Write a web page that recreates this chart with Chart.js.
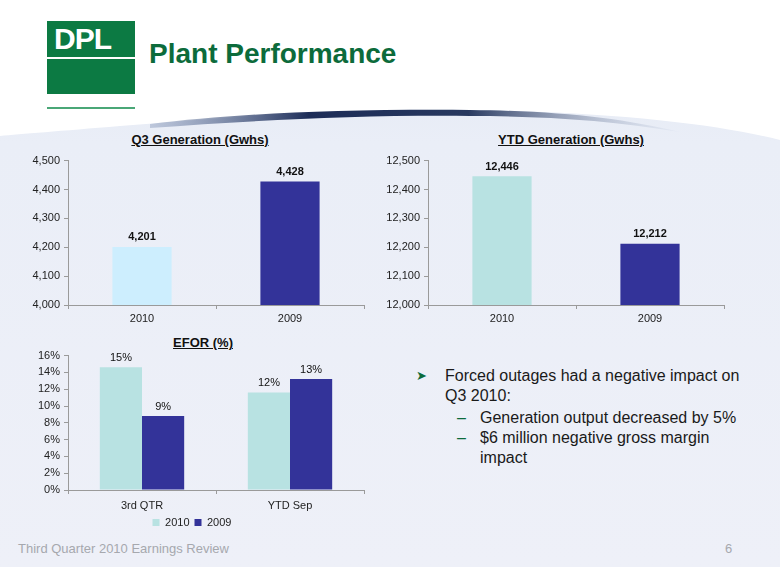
<!DOCTYPE html>
<html>
<head>
<meta charset="utf-8">
<script src="https://cdn.jsdelivr.net/npm/chart.js@4.4.1/dist/chart.umd.min.js"></script>
<style>
  html, body { margin: 0; padding: 0; }
  body {
    width: 780px; height: 567px; position: relative; overflow: hidden;
    font-family: "Liberation Sans", Arial, sans-serif;
    background: #eef0f8;
  }
  .abs { position: absolute; }
  #swoosh { left: 0; top: 0; }
  .logo-top { left: 47px; top: 21px; width: 88px; height: 36px; background: #0c7a43; }
  .logo-bot { left: 47px; top: 59px; width: 88px; height: 35px; background: #0c7a43; }
  .logo-line { left: 47px; top: 107px; width: 88px; height: 2px; background: #4aa777; }
  .logo-txt { left: 54px; top: 22px; color: #fff; font: bold 30px "Liberation Sans", Arial, sans-serif; letter-spacing: -1px; }
  .title { left: 149px; top: 38px; color: #0c6b3b; font: bold 28px "Liberation Sans", Arial, sans-serif; }
  .ctitle { font: bold 13px "Liberation Sans", Arial, sans-serif; color: #111; text-decoration: underline; white-space: nowrap; transform: translateX(-50%); }
  .bul { font: 16px "Liberation Sans", Arial, sans-serif; color: #1a1a1a; line-height: 20px; }
  .foot { font: 13px "Liberation Sans", Arial, sans-serif; color: #a6a8ae; }
</style>
</head>
<body>
<svg id="swoosh" class="abs" width="780" height="567">
  <defs>
    <linearGradient id="bg" x1="0" y1="0" x2="0" y2="1">
      <stop offset="0" stop-color="#dfe6f2"/>
      <stop offset="0.25" stop-color="#eaeef7"/>
      <stop offset="1" stop-color="#eef0f8"/>
    </linearGradient>
    <linearGradient id="sw" x1="0" y1="0" x2="1" y2="0">
      <stop offset="0" stop-color="#7c8fb3" stop-opacity="0.4"/>
      <stop offset="0.3" stop-color="#1c2c57"/>
      <stop offset="0.6" stop-color="#28395f"/>
      <stop offset="1" stop-color="#c9d3e6" stop-opacity="0.2"/>
    </linearGradient>
  </defs>
  <rect x="0" y="0" width="780" height="567" fill="url(#bg)"/>
  <path d="M0 0 H780 V140 C720 125 620 112 470 110 C330 108 220 118 120 126 C60 131 20 134 0 136 Z" fill="#ffffff"/>
  <path d="M150 124 C230 114 330 109 470 110 C560 111 620 118 680 132 C610 120 540 116 470 116 C360 115 260 120 150 128 Z" fill="url(#sw)"/>
</svg>

<div class="abs logo-top"></div>
<div class="abs logo-bot"></div>
<div class="abs logo-line"></div>
<div class="abs logo-txt">DPL</div>
<div class="abs title">Plant Performance</div>

<div class="abs ctitle" style="left:200px; top:132px;">Q3 Generation (Gwhs)</div>
<div class="abs ctitle" style="left:571px; top:132px;">YTD Generation (Gwhs)</div>
<div class="abs ctitle" style="left:203px; top:335px;">EFOR (%)</div>

<canvas id="q3" class="abs" style="left:20px; top:150px;"></canvas>
<canvas id="ytd" class="abs" style="left:380px; top:150px;"></canvas>
<canvas id="efor" class="abs" style="left:20px; top:345px;"></canvas>

<div class="abs bul" style="left:416px; top:366px; color:#0c6b3b; font-size:13px;">&#10148;</div>
<div class="abs bul" style="left:445px; top:366px; width:320px;">Forced outages had a negative impact on<br>Q3 2010:</div>
<div class="abs bul" style="left:457px; top:408px; color:#0c6b3b;">&ndash;</div>
<div class="abs bul" style="left:480px; top:408px;">Generation output decreased by 5%</div>
<div class="abs bul" style="left:457px; top:428px; color:#0c6b3b;">&ndash;</div>
<div class="abs bul" style="left:480px; top:428px; width:280px;">$6 million negative gross margin<br>impact</div>

<div class="abs foot" style="left:18px; top:541px;">Third Quarter 2010 Earnings Review</div>
<div class="abs foot" style="left:725px; top:541px;">6</div>

<script>
// 数据
const genYears = ['2010', '2009'];
const q3Values = [4201, 4428];
const ytdValues = [12446, 12212];
const q3Ticks = [4000, 4500, 100];
const ytdTicks = [12000, 12500, 100];

const eforCats = ['3rd QTR', 'YTD Sep'];
const efor2010 = [14.6, 11.6];
const efor2009 = [8.8, 13.2];
const eforLabels2010 = ['15%', '12%'];
const eforLabels2009 = ['9%', '13%'];
const eforTicks = [0, 16, 2];

const navy = '#333399';
const font = "'Liberation Sans', Arial, sans-serif";

// 柱顶数值标签
const valueLabels = {
  id: 'valueLabels',
  afterDatasetsDraw(chart) {
    const ctx = chart.ctx;
    chart.data.datasets.forEach((ds, i) => {
      const meta = chart.getDatasetMeta(i);
      meta.data.forEach((bar, j) => {
        const text = ds.labels ? ds.labels[j] : ds.data[j].toLocaleString('en-US');
        ctx.save();
        ctx.font = (ds.labelBold ? 'bold ' : '') + '11px ' + font;
        ctx.fillStyle = '#111';
        ctx.textAlign = 'center';
        ctx.textBaseline = 'bottom';
        ctx.fillText(text, bar.x, bar.y - 4);
        ctx.restore();
      });
    });
  }
};

function axisOpts(min, max, step, fmt) {
  return {
    x: {
      grid: { display: true, drawOnChartArea: false, tickLength: 4, color: '#9a9a9a' },
      border: { color: '#9a9a9a' },
      ticks: { color: '#222', font: { size: 11, family: font }, padding: 3 },
      afterFit: s => { s.height = 25; }
    },
    y: {
      min: min, max: max,
      grid: { display: true, drawOnChartArea: false, tickLength: 4, color: '#9a9a9a' },
      border: { color: '#9a9a9a' },
      ticks: { stepSize: step, autoSkip: false, color: '#222', font: { size: 11, family: font }, padding: 4, callback: fmt },
      afterFit: s => { s.width = 48; }
    }
  };
}

function genChart(id, values, colors, ticks) {
  const el = document.getElementById(id);
  el.width = 350; el.height = 180;
  new Chart(el, {
    type: 'bar',
    data: {
      labels: genYears,
      datasets: [{ data: values, backgroundColor: colors, labelBold: true,
        barPercentage: 0.4, categoryPercentage: 1 }]
    },
    options: {
      responsive: false, animation: false,
      layout: { padding: { top: 9, right: 6, left: 0, bottom: 0 } },
      plugins: { legend: { display: false }, tooltip: { enabled: false } },
      scales: axisOpts(ticks[0], ticks[1], ticks[2], v => v.toLocaleString('en-US'))
    },
    plugins: [valueLabels]
  });
}

genChart('q3', q3Values, ['#cdeefe', navy], q3Ticks);
genChart('ytd', ytdValues, ['#b8e2e2', navy], ytdTicks);

const eforEl = document.getElementById('efor');
eforEl.width = 350; eforEl.height = 195;
const eforScales = axisOpts(eforTicks[0], eforTicks[1], eforTicks[2], v => v + '%');
eforScales.x.afterFit = s => { s.height = 22; };
eforScales.x.ticks.padding = 5;
new Chart(eforEl, {
  type: 'bar',
  data: {
    labels: eforCats,
    datasets: [
      { label: '2010', data: efor2010, labels: eforLabels2010, backgroundColor: '#b8e2e2',
        barPercentage: 1, categoryPercentage: 0.57 },
      { label: '2009', data: efor2009, labels: eforLabels2009, backgroundColor: navy,
        barPercentage: 1, categoryPercentage: 0.57 }
    ]
  },
  options: {
    responsive: false, animation: false,
    layout: { padding: { top: 9, right: 6, left: 0, bottom: 2 } },
    plugins: {
      legend: {
        position: 'bottom',
        labels: { boxWidth: 7, boxHeight: 7, padding: 5, color: '#222', font: { size: 11, family: font } }
      },
      tooltip: { enabled: false }
    },
    scales: eforScales
  },
  plugins: [valueLabels]
});
</script>
</body>
</html>
